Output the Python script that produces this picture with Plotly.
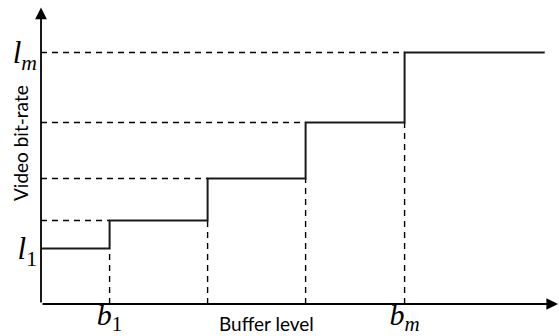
import plotly.graph_objects as go

# Buffer thresholds b_1 ... b_m, and where the top rate segment stops
buffer_thresholds = [0.70, 1.70, 2.70, 3.71]
buffer_end = 5.14
# Bit-rate levels l_1 ... l_m
bitrate_levels = [1.11, 1.67, 2.51, 3.63, 5.03]

x_tick_labels = ["<i>b</i><sub>1</sub>", "<i>b<sub>m</sub></i>"]
y_tick_labels = ["<i>l</i><sub>1</sub>", "<i>l<sub>m</sub></i>"]
x_axis_label = "Buffer level"
y_axis_label = "Video bit-rate"

X_MAX = 5.2857
Y_MAX = 6.08
MATH_FONT = dict(family="Liberation Serif", size=31, color="black")
X_MATH_FONT = dict(family="Liberation Serif", size=30, color="black")
TEXT_FONT = dict(family="Lato", size=19, color="black")

fig = go.Figure()

# Dashed guides: rate level back to the y-axis, threshold down to the x-axis
hx, hy, vx, vy = [], [], [], []
for i, b in enumerate(buffer_thresholds):
    hx += [0, b, None]
    hy += [bitrate_levels[i + 1], bitrate_levels[i + 1], None]
    vx += [b, b, None]
    vy += [0, bitrate_levels[i], None]

guide = dict(color="black", width=1.4, dash="6px,5px")
fig.add_trace(go.Scatter(x=hx, y=hy, mode="lines", line=guide,
                         hoverinfo="skip", cliponaxis=False))
fig.add_trace(go.Scatter(x=vx, y=vy, mode="lines", line=guide,
                         hoverinfo="skip", cliponaxis=False))

# Staircase rate-selection function
step_x = [0] + buffer_thresholds + [buffer_end]
step_y = bitrate_levels + [bitrate_levels[-1]]
fig.add_trace(go.Scatter(x=step_x, y=step_y, mode="lines", line_shape="hv",
                         line=dict(color="#1a1a1a", width=2),
                         hoverinfo="skip", cliponaxis=False))

# Axes drawn as arrows
arrow = dict(showarrow=True, arrowhead=2, arrowsize=1.3, arrowwidth=1.8,
             arrowcolor="black", axref="x", ayref="y", text="")
fig.add_annotation(x=5.276, y=0, ax=0, ay=0, **arrow)
fig.add_annotation(x=0, y=5.93, ax=0, ay=0, **arrow)

# Axis titles
fig.add_annotation(x=2.30, y=0, xref="x", yref="paper", yanchor="top",
                   yshift=-6, text=x_axis_label, showarrow=False,
                   font=TEXT_FONT)
fig.add_annotation(x=0, y=3.22, xref="paper", yref="y", xanchor="center",
                   xshift=-21, text=y_axis_label, textangle=-90,
                   showarrow=False, font=TEXT_FONT)

fig.update_xaxes(range=[0, X_MAX], showgrid=False, zeroline=False,
                 showline=False, ticks="", automargin=False,
                 tickvals=[buffer_thresholds[0], buffer_thresholds[-1]],
                 ticktext=x_tick_labels, tickfont=X_MATH_FONT,
                 ticklabelstandoff=-10)
fig.update_yaxes(range=[0, Y_MAX], showgrid=False, zeroline=False,
                 showline=False, ticks="", automargin=False,
                 tickvals=[bitrate_levels[0], bitrate_levels[-1]],
                 ticktext=y_tick_labels, tickfont=MATH_FONT,
                 ticklabelstandoff=3)

fig.update_layout(width=559, height=336, showlegend=False,
                  margin=dict(l=41, r=0, t=0, b=32),
                  paper_bgcolor="white", plot_bgcolor="white")

fig.write_html("out.html")
